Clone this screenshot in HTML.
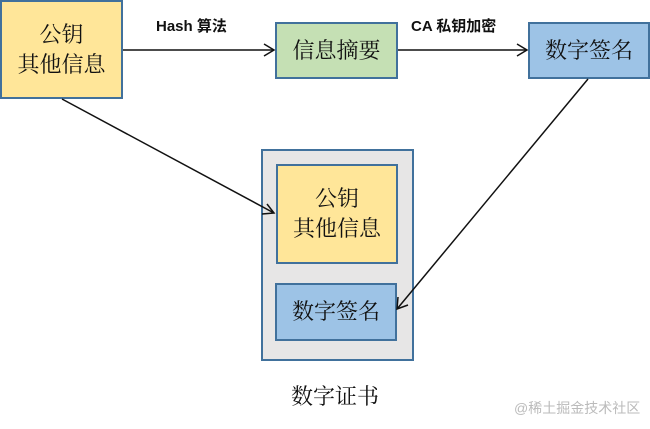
<!DOCTYPE html>
<html><head><meta charset="utf-8"><style>
body{margin:0;width:650px;height:429px;background:#fff;overflow:hidden;position:relative;font-family:"Liberation Serif","Noto Serif CJK SC",serif}
.b{position:absolute;box-sizing:border-box;border:2px solid #41719c;display:flex;align-items:center;justify-content:center;text-align:center;font-size:22px;line-height:30px;color:#111}
.y{background:#ffe699}.g{background:#c5e0b4}.u{background:#9dc3e6}
.t{position:absolute;font-family:"Liberation Sans","Noto Sans CJK SC",sans-serif;font-weight:bold;font-size:15px;color:#111}
</style></head><body>
<div class="b" style="left:261px;top:149px;width:153px;height:212px;background:#e7e6e6"></div>
<div class="b y" style="left:0;top:0;width:123px;height:99px">公钥<br>其他信息</div>
<div class="b g" style="left:275px;top:22px;width:123px;height:57px">信息摘要</div>
<div class="b u" style="left:528px;top:22px;width:122px;height:57px">数字签名</div>
<div class="b y" style="left:276px;top:164px;width:122px;height:100px">公钥<br>其他信息</div>
<div class="b u" style="left:275px;top:283px;width:122px;height:58px">数字签名</div>
<div class="t" style="left:156px;top:15px">Hash 算法</div>
<div class="t" style="left:411px;top:15px">CA 私钥加密</div>
<div style="position:absolute;left:291px;top:380px;font-size:22px;color:#111">数字证书</div>
<div style="position:absolute;left:514px;top:398px;font-size:14px;color:#bbb;font-family:'Liberation Sans','Noto Sans CJK SC',sans-serif">@稀土掘金技术社区</div>
<svg width="650" height="429" style="position:absolute;left:0;top:0" fill="none" stroke="#111" stroke-width="1.5">
<line x1="123" y1="50" x2="274" y2="50"/><polyline points="264,44 274,50 264,56"/>
<line x1="398" y1="50" x2="527" y2="50"/><polyline points="517,44 527,50 517,56"/>
<line x1="62" y1="99" x2="274" y2="213"/><polyline points="262,214 274,213 267,204"/>
<line x1="588" y1="79" x2="397" y2="309"/><polyline points="398,297 397,309 408,305"/>
</svg>
</body></html>
